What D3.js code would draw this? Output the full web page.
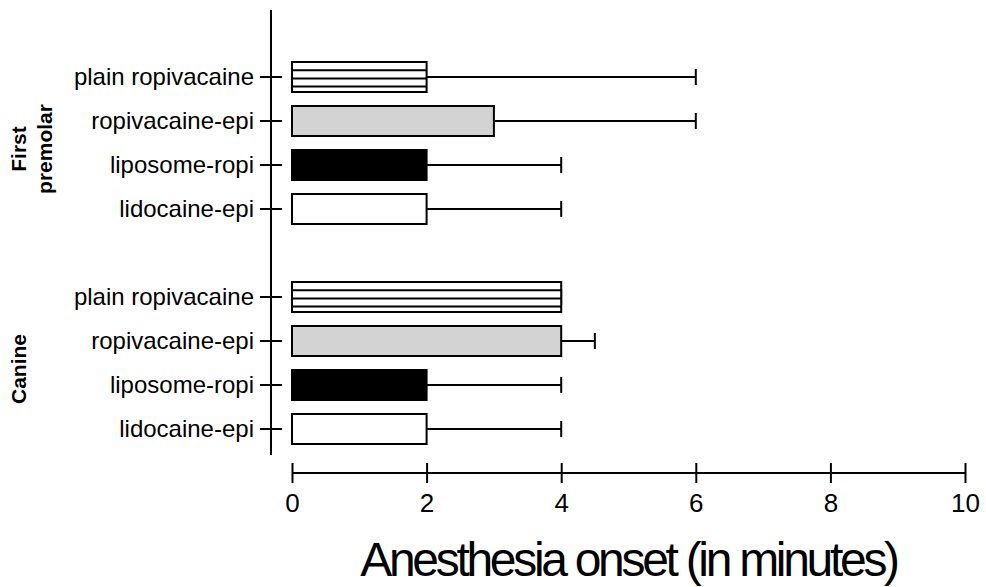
<!DOCTYPE html>
<html>
<head>
<meta charset="utf-8">
<script src="https://cdn.jsdelivr.net/npm/d3@7"></script>
<style>
  html, body { margin: 0; padding: 0; background: #fff; }
  svg { display: block; font-family: "Liberation Sans", Arial, Helvetica, sans-serif; }
</style>
</head>
<body>
<svg id="chart" width="986" height="587"></svg>
<script>
// Treatments shown within each tooth group (top to bottom)
const treatments = ["plain ropivacaine", "ropivacaine-epi", "liposome-ropi", "lidocaine-epi"];
const groups = ["First premolar", "Canine"];
// Onset bar values (minutes), per group, in treatment order
const firstPremolarValues = [2, 3, 2, 2];
const canineValues = [4, 4, 2, 2];
// Upper end of the error whiskers (minutes)
const firstPremolarUpper = [6, 6, 4, 4];
const canineUpper = [4, 4.5, 4, 4];
const xTicks = [0, 2, 4, 6, 8, 10];
const xTitle = "Anesthesia onset (in minutes)";

const fills = {
  "plain ropivacaine": "#ffffff",
  "ropivacaine-epi": "#d3d3d3",
  "liposome-ropi": "#000000",
  "lidocaine-epi": "#ffffff"
};

// Row slots: four rows per group with one empty slot between groups
const rows = [];
groups.forEach((g, gi) => {
  const vals = gi === 0 ? firstPremolarValues : canineValues;
  const ups = gi === 0 ? firstPremolarUpper : canineUpper;
  treatments.forEach((t, ti) => {
    rows.push({ key: g + "|" + t, group: g, treatment: t, value: vals[ti], upper: ups[ti], slot: gi * 5 + ti });
  });
});
const slotKeys = d3.range(9).map(String);

const svg = d3.select("#chart");

const x = d3.scaleLinear().domain([0, 10]).range([292, 965]);
const y = d3.scaleBand().domain(slotKeys).range([55, 451]).paddingInner(0.31).paddingOuter(0.155);

const barH = 30;
const cy = d => y(String(d.slot)) + y.bandwidth() / 2;

// Error whiskers (drawn first so bars sit on top)
const err = svg.append("g").attr("stroke", "#000").attr("stroke-width", 2);
err.selectAll("line.whisker").data(rows).join("line")
  .attr("class", "whisker")
  .attr("x1", d => x(d.value)).attr("x2", d => x(d.upper))
  .attr("y1", cy).attr("y2", cy);
err.selectAll("line.cap").data(rows).join("line")
  .attr("class", "cap")
  .attr("x1", d => x(d.upper)).attr("x2", d => x(d.upper))
  .attr("y1", d => cy(d) - 8).attr("y2", d => cy(d) + 8);

// Bars
const bars = svg.append("g");
bars.selectAll("rect").data(rows).join("rect")
  .attr("x", x(0))
  .attr("y", d => cy(d) - barH / 2)
  .attr("width", d => x(d.value) - x(0))
  .attr("height", barH)
  .attr("fill", d => fills[d.treatment])
  .attr("stroke", "#000").attr("stroke-width", 2);

// Horizontal stripes inside the plain ropivacaine bars
const striped = rows.filter(d => d.treatment === "plain ropivacaine");
const stripeLines = [];
striped.forEach(d => [1, 2, 3].forEach(k => stripeLines.push({ d, off: k * 8.2 })));
bars.append("g").selectAll("line").data(stripeLines).join("line")
  .attr("x1", x(0)).attr("x2", s => x(s.d.value))
  .attr("y1", s => cy(s.d) - barH / 2 + s.off)
  .attr("y2", s => cy(s.d) - barH / 2 + s.off)
  .attr("stroke", "#000").attr("stroke-width", 2);

// Y axis (vertical line with crossing ticks)
const yAxisX = 271;
svg.append("line").attr("x1", yAxisX).attr("x2", yAxisX).attr("y1", 10).attr("y2", 455)
  .attr("stroke", "#000").attr("stroke-width", 2);
svg.append("g").selectAll("line").data(rows).join("line")
  .attr("x1", yAxisX - 11).attr("x2", yAxisX + 11)
  .attr("y1", cy).attr("y2", cy)
  .attr("stroke", "#000").attr("stroke-width", 2);
svg.append("g").selectAll("text").data(rows).join("text")
  .attr("x", 254).attr("y", cy).attr("dy", "0.35em")
  .attr("text-anchor", "end")
  .attr("font-size", 24)
  .attr("fill", "#000")
  .text(d => d.treatment);

// Group labels (rotated, bold)
const groupCenter = g => d3.mean(rows.filter(r => r.group === g), cy) + 6;
const gl = svg.append("g").attr("font-weight", "bold").attr("font-size", 21).attr("fill", "#000");
const fp = gl.append("text").attr("transform", `translate(26,${groupCenter("First premolar")}) rotate(-90)`)
  .attr("text-anchor", "middle");
fp.append("tspan").attr("x", 0).attr("dy", 0).text("First");
fp.append("tspan").attr("x", 0).attr("dy", 26).text("premolar");
gl.append("text").attr("transform", `translate(26,${groupCenter("Canine")}) rotate(-90)`)
  .attr("text-anchor", "middle").text("Canine");

// X axis
const xAxis = d3.axisBottom(x).tickValues(xTicks).tickSize(0).tickPadding(0).tickFormat(d3.format("d"));
const gx = svg.append("g").attr("transform", "translate(0,473)").call(xAxis);
gx.select(".domain").remove();
gx.append("line").attr("x1", x(0)).attr("x2", x(10)).attr("y1", 0).attr("y2", 0)
  .attr("stroke", "#000").attr("stroke-width", 2);
gx.selectAll(".tick").append("line").attr("y1", -10).attr("y2", 10)
  .attr("stroke", "#000").attr("stroke-width", 2);
gx.selectAll(".tick text")
  .attr("y", 30).attr("dy", "0.35em")
  .attr("font-size", 26).attr("fill", "#000")
  .attr("font-family", "'Liberation Sans', Arial, sans-serif");

svg.append("text")
  .attr("x", (x(0) + x(10)) / 2).attr("y", 576)
  .attr("text-anchor", "middle")
  .attr("font-size", 48).attr("letter-spacing", -3.3)
  .attr("fill", "#000")
  .text(xTitle);
</script>
</body>
</html>
